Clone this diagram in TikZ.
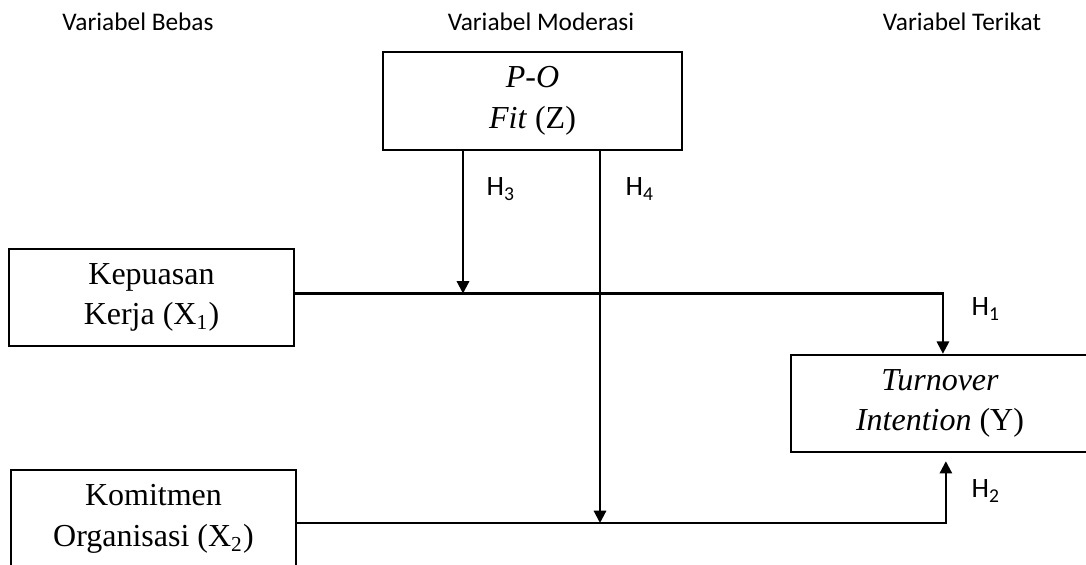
\documentclass[tikz,border=0pt]{standalone}
\usepackage{fontspec}
\setmainfont{Liberation Serif}
\newfontfamily\calibri{Carlito}
\usetikzlibrary{arrows.meta, positioning, calc}

\begin{document}
\begin{tikzpicture}[
    x=0.375pt, y=-0.375pt,
    font=\fontsize{12}{15.2}\selectfont,
    varbox/.style={draw, line width=0.8pt, align=center, inner sep=0pt,
                   minimum width=#1, minimum height=36.5pt},
    varbox/.default=107pt,
    head/.style={font=\calibri\fontsize{9.5}{11}\selectfont},
    hlab/.style={font=\calibri\fontsize{10.5}{12}\selectfont},
    arr/.style={line width=0.8pt, -{Triangle[length=4.6pt, width=4.6pt]}},
]
    \clip (0,0) rectangle (1086,565);

    %==================== HEADINGS ====================
    \node[head] (hbebas) at (138,22) {Variabel Bebas};
    \node[head] (hmod) at (541,22) {Variabel Moderasi};
    \node[head] (hterikat) at (962,22) {Variabel Terikat};

    %==================== VARIABLES ====================
    \node[varbox=112pt] (z) at (532.5,101) {\textit{P-O}\\\textit{Fit} (Z)};
    \node[varbox] (x1) at (151.5,297.5) {Kepuasan\\Kerja (X\textsubscript{1})};
    \node[varbox] (x2) at (153.5,519) {Komitmen\\Organisasi (X\textsubscript{2})};
    \node[varbox=111.75pt] (y) at (940,403.5) {\textit{Turnover}\\\textit{Intention} (Y)};

    %==================== DIRECT PATHS ====================
    \draw[arr] ([yshift=1.5pt]x1.east) -| ([xshift=1.1pt]y.north);
    \draw[arr, shorten >=3pt] ([yshift=-1.5pt]x2.east) -| ([xshift=2.2pt]y.south);

    %==================== MODERATION ====================
    \coordinate (m3) at (463,293.5);
    \coordinate (m4) at (600,523);
    \draw[arr] (z.south -| m3) -- (m3);
    \draw[arr] (z.south -| m4) -- (m4);

    %==================== LABELS ====================
    \node[hlab] (h1) at (986,309) {H\textsubscript{1}};
    \node[hlab] (h2) at (986,491) {H\textsubscript{2}};
    \node[hlab] (h3) at (501,189) {H\textsubscript{3}};
    \node[hlab] (h4) at (640,189) {H\textsubscript{4}};

\end{tikzpicture}
\end{document}
